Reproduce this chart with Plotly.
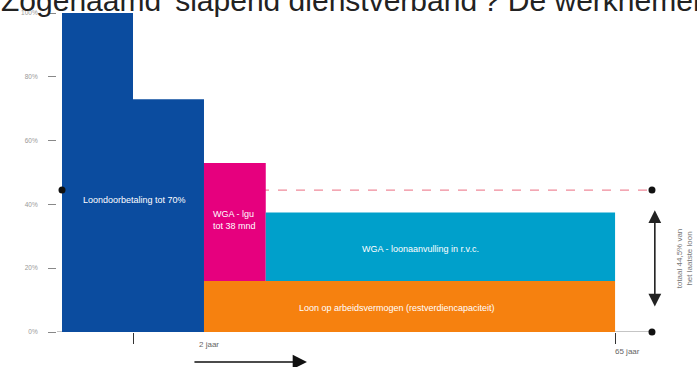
import plotly.graph_objects as go

# --- data -------------------------------------------------------------
segments = ["Loondoorbetaling jaar 1", "Loondoorbetaling jaar 2", "WGA - lgu",
            "WGA - loonaanvulling", "Loon op arbeidsvermogen"]
x_start = [0.0, 1.0, 2.0, 2.87, 2.0]      # schematic time units
x_end = [1.0, 2.0, 2.87, 7.79, 7.79]
base = [0, 0, 16, 16, 0]                 # % of last income
top = [100, 73, 53, 37.5, 16]
colors = ["#0b4c9f", "#0b4c9f", "#e6007e", "#00a0cb", "#f6810f"]

total_level = 44.5                        # total income level (%)
end_x = 8.31

y_ticks = [0, 20, 40, 60, 80, 100]
y_ticktext = ["0%", "20%", "40%", "60%", "80%", "100%"]

bar_labels = [
    ("Loondoorbetaling tot 70%", 1.02, 41.5, "center"),
    ("WGA - lgu<br>tot 38 mnd", 2.1, 35.0, "left"),
    ("WGA - loonaanvulling in r.v.c.", 5.05, 26.0, "center"),
    ("Loon op arbeidsvermogen (restverdiencapaciteit)", 4.72, 7.5, "center"),
]

fig = go.Figure()
for name, xs, xe, b, t, c in zip(segments, x_start, x_end, base, top, colors):
    fig.add_trace(go.Bar(
        x=[(xs + xe) / 2], y=[t - b], base=[b], width=[xe - xs],
        marker=dict(color=c, line=dict(width=0)), name=name,
        showlegend=False, hoverinfo="name",
    ))

# dashed total line (below bars)
fig.add_shape(type="line", x0=0, x1=end_x, y0=total_level, y1=total_level,
              line=dict(color="#f08a9a", width=1.3, dash="dash"), layer="below")
# baseline
fig.add_shape(type="line", x0=-0.1, x1=end_x, y0=0, y1=0,
              line=dict(color="#8a8a8a", width=1), layer="below")

# dots
fig.add_trace(go.Scatter(x=[0, end_x, end_x], y=[total_level, total_level, 0],
                         mode="markers", marker=dict(color="#111", size=7),
                         showlegend=False, hoverinfo="skip", cliponaxis=False))

for txt, x, y, al in bar_labels:
    fig.add_annotation(x=x, y=y, text=txt, showarrow=False,
                       xanchor="left" if al == "left" else "center",
                       align=al, font=dict(color="white", size=9,
                                           family="Liberation Sans"))

# right double arrow
fig.add_annotation(x=8.35, y=38.2, ax=8.35, ay=7.5, axref="x", ayref="y",
                   xref="x", yref="y", text="", showarrow=True,
                   arrowhead=2, arrowside="end+start", arrowsize=1.6,
                   arrowwidth=1.6, arrowcolor="#222", standoff=0, startstandoff=0)
fig.add_annotation(x=8.77, y=23, text="totaal 44,5% van<br>het laatste loon",
                   textangle=-90, showarrow=False,
                   font=dict(color="#777", size=8, family="Liberation Sans"))

# bottom labels and arrow (paper-referenced vertically, below the axis)
fig.add_annotation(x=2.07, xref="x", y=-0.06, yref="paper", text="2 jaar",
                   showarrow=False,
                   font=dict(color="#666", size=8, family="Liberation Sans"))
fig.add_annotation(x=7.97, xref="x", y=-0.08, yref="paper", text="65 jaar",
                   showarrow=False,
                   font=dict(color="#666", size=8, family="Liberation Sans"))
fig.add_annotation(x=3.45, xref="x", y=-0.094, yref="paper", ax=-114, ay=0,
                   axref="pixel", ayref="pixel", text="", showarrow=True,
                   arrowhead=2, arrowsize=1.9, arrowwidth=1.5,
                   arrowcolor="#111", standoff=0)

# title (cut at top like the reference)
fig.add_annotation(xref="paper", yref="paper", x=0, y=1, xanchor="left",
                   yanchor="bottom", yshift=-6, xshift=-58,
                   text="Zogenaamd 'slapend dienstverband'? De werknemer",
                   showarrow=False,
                   font=dict(size=30, color="#222", family="Liberation Sans"))

fig.update_layout(
    width=697, height=367, margin=dict(l=57, r=0, t=13, b=35),
    paper_bgcolor="white", plot_bgcolor="white", barmode="overlay",
    xaxis=dict(range=[-0.0704, 8.944], showgrid=False, zeroline=False,
               showline=False, tickvals=[1, 7.79], ticktext=["", ""],
               ticks="outside", ticklen=11, tickcolor="#333", tickwidth=1),
    yaxis=dict(range=[0, 100], showgrid=False, zeroline=False, showline=False,
               tickvals=y_ticks, ticktext=y_ticktext, ticks="outside",
               ticklen=8, tickcolor="#888", tickwidth=1, ticklabelstandoff=9,
               tickfont=dict(size=6.5, color="#999", family="Liberation Sans")),
)

fig.write_html("out.html")
